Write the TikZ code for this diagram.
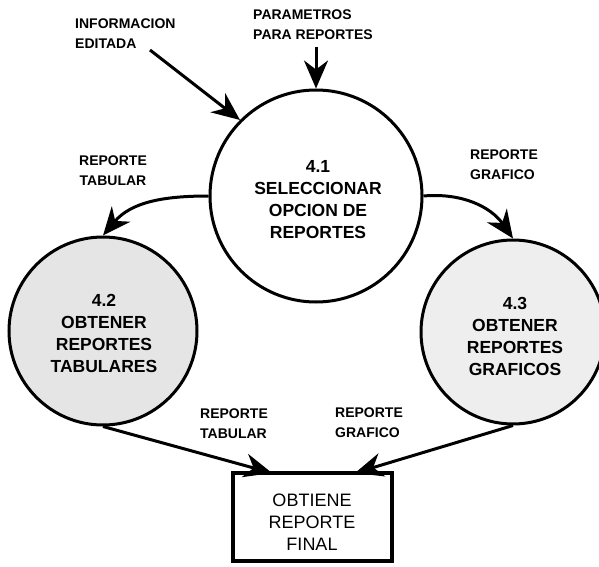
\documentclass[tikz,border=0pt]{standalone}
\usepackage{fontspec}
\setmainfont{Liberation Sans}
\usetikzlibrary{arrows.meta}
\begin{document}
\begin{tikzpicture}[x=1pt,y=1pt,
  proc/.style={circle, draw=black, line width=3pt, inner sep=0pt,
    align=center, font=\fontsize{17.5}{22}\selectfont\bfseries},
  store/.style={rectangle, draw=black, line width=3.5pt, inner sep=0pt,
    align=center, font=\fontsize{18}{22}\selectfont},
  flowlabel/.style={align=left, inner sep=0pt,
    font=\fontsize{14}{20}\selectfont\bfseries},
  flow/.style={line width=3pt,
    -{Stealth[length=28pt, width=24pt, inset=9pt]}}
]
\useasboundingbox (0,0) rectangle (599,566);

% processes
\node[proc, minimum size=212pt, fill=white] (c41) at (316,370) {};
\node[proc, minimum size=188pt, fill=gray!20] (c42) at (103,235) {};
\node[proc, minimum size=184pt, fill=gray!13] (c43) at (513,234) {};

\node[proc, draw=none] (t41) at (318,366) {4.1\\SELECCIONAR\\OPCION DE\\REPORTES};
\node[proc, draw=none] (t42) at (104,233) {4.2\\OBTENER\\REPORTES\\TABULARES};
\node[proc, draw=none] (t43) at (515,230) {4.3\\OBTENER\\REPORTES\\GRAFICOS};

% output box
\node[store, minimum width=159pt, minimum height=88pt] (fin) at (312.5,49) {};
\node[store, draw=none] (tfin) at (312,44) {OBTIENE\\REPORTE\\FINAL};

% flow labels
\node[flowlabel, anchor=west] (l1) at (75,532) {INFORMACION\\EDITADA};
\node[flowlabel, anchor=west] (l2) at (253,541.5) {PARAMETROS\\PARA REPORTES};
\node[flowlabel, align=center] (l3) at (113,395) {REPORTE\\TABULAR};
\node[flowlabel, anchor=west] (l4) at (470,401.5) {REPORTE\\GRAFICO};
\node[flowlabel, anchor=west] (l5) at (200,142) {REPORTE\\TABULAR};
\node[flowlabel, anchor=west] (l6) at (335,143) {REPORTE\\GRAFICO};

% free ends of the incoming flows
\coordinate (inInfo) at (150,516);
\coordinate (inParam) at (316,519);
\coordinate (finL) at (272,93);
\coordinate (finR) at (355,93);

% flows
\draw[flow] (inInfo) -- (c41.135);
\draw[flow] (inParam) -- (c41.north);
\draw[flow] (c41.west) to[out=180, in=50] (c42.north);
\draw[flow] (c41.east) to[out=5, in=125] (c43.north);
\draw[flow] (c42.south) -- (finL);
\draw[flow] (c43.south) -- (finR);
\end{tikzpicture}
\end{document}
